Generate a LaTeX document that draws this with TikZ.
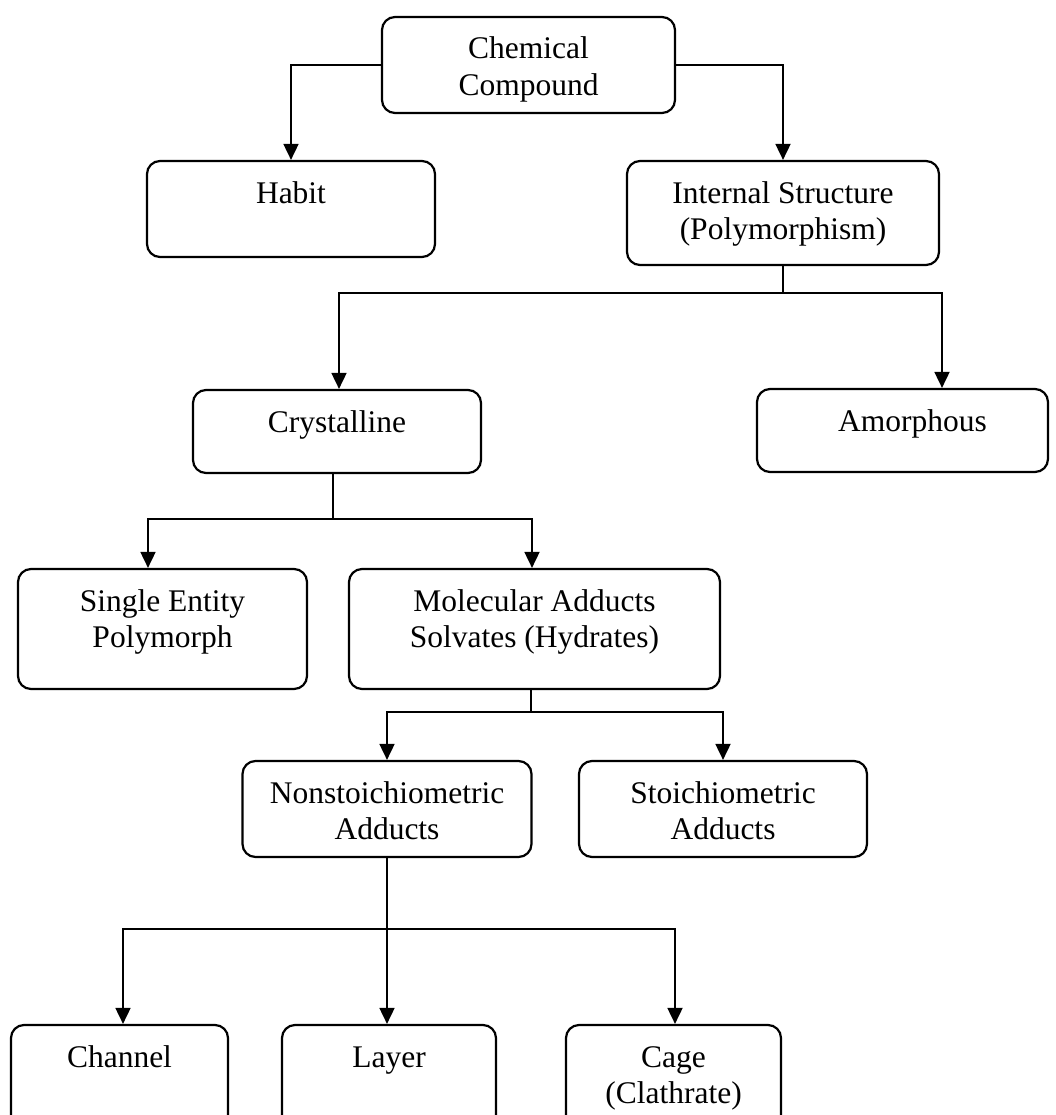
\documentclass[tikz,border=0pt]{standalone}
\usepackage{fontspec}
\setmainfont{Liberation Serif}
\usetikzlibrary{arrows.meta}

% box contents: fixed width and height, text centred and set from the top
\newcommand{\boxtxt}[3]{\parbox[c][#2][t]{#1}{\centering\fontsize{31.5pt}{36.5pt}\selectfont\rule{0pt}{42pt}#3}}

\tikzset{
  box/.style={draw, line width=2.2pt, rounded corners=13pt, inner sep=0pt},
  link/.style={line width=1.8pt},
  arr/.style={line width=1.8pt, -{Triangle[length=16pt,width=15pt]}}
}

\begin{document}
\begin{tikzpicture}[x=1pt, y=-1pt]
\useasboundingbox (0,0) rectangle (1056,1115);
\clip (0,0) rectangle (1056,1115);
\fill[white] (0,0) rectangle (1056,1115);

% level 0
\node[box] (chem) at (528.5,65) {\boxtxt{293pt}{96pt}{Chemical\\Compound}};

% level 1
\node[box] (habit)    at (291,209) {\boxtxt{288pt}{96pt}{Habit}};
\node[box] (internal) at (783,213) {\boxtxt{312pt}{104pt}{Internal Structure\\(Polymorphism)}};

% level 2
\node[box] (cryst)  at (337,431.5)   {\boxtxt{288pt}{83pt}{Crystalline}};
\node[box] (amorph) at (902.5,430.5) {\boxtxt{291pt}{83pt}{\hspace*{20pt}Amorphous}};

% level 3
\node[box] (single) at (162.5,629) {\boxtxt{289pt}{120pt}{Single Entity\\Polymorph}};
\node[box] (molec)  at (534.5,629) {\boxtxt{371pt}{120pt}{Molecular Adducts\\Solvates (Hydrates)}};

% level 4
\node[box] (nonst)  at (387,809) {\boxtxt{289pt}{96pt}{Nonstoichiometric\\Adducts}};
\node[box] (stoich) at (723,809) {\boxtxt{288pt}{96pt}{Stoichiometric\\Adducts}};

% level 5
\node[box] (channel) at (119.5,1085) {\boxtxt{217pt}{120pt}{Channel}};
\node[box] (layer)   at (389,1085)   {\boxtxt{214pt}{120pt}{Layer}};
\node[box] (cage)    at (673.5,1085) {\boxtxt{215pt}{120pt}{Cage\\(Clathrate)}};

% branch points
\coordinate (j1) at (783,293);
\coordinate (j2) at (333,519);
\coordinate (j3) at (531,712);
\coordinate (j4) at (387,929);

% connectors
\draw[arr] (chem.west) -| (habit.north);
\draw[arr] (chem.east) -| (internal.north);

\draw[link] (internal.south) -- (j1);
\draw[arr] (j1) -| ([xshift=2pt]cryst.north);
\draw[arr] (j1) -| ([xshift=39.5pt]amorph.north);

\draw[link] (j2 |- cryst.south) -- (j2);
\draw[arr] (j2) -| ([xshift=-14.5pt]single.north);
\draw[arr] (j2) -| ([xshift=-2.5pt]molec.north);

\draw[link] (j3 |- molec.south) -- (j3);
\draw[arr] (j3) -| (nonst.north);
\draw[arr] (j3) -| (stoich.north);

\draw[arr] (nonst.south) -- (nonst.south |- layer.north);
\draw[arr] (j4) -| ([xshift=3.5pt]channel.north);
\draw[arr] (j4) -| ([xshift=1.5pt]cage.north);
\end{tikzpicture}
\end{document}
